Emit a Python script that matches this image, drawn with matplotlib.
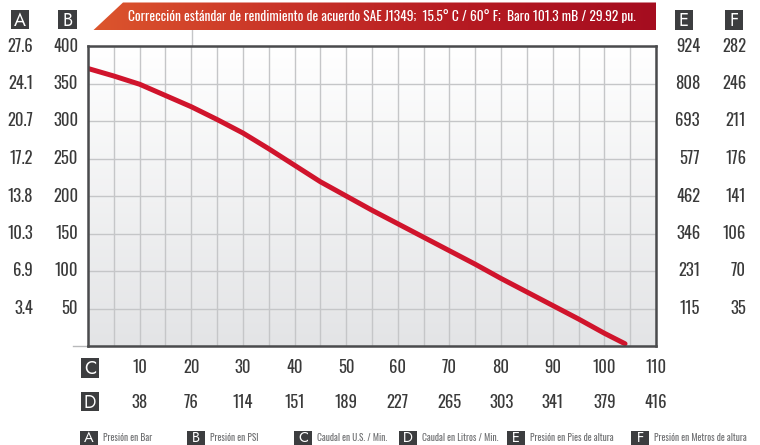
import numpy as np
import matplotlib
matplotlib.use("Agg")
import matplotlib.pyplot as plt
from matplotlib import font_manager
from matplotlib.patches import Rectangle, Polygon
from matplotlib.colors import LinearSegmentedColormap

# ---------------- data ----------------
flow_gpm = [0, 5, 10, 15, 20, 25, 30, 35, 40, 45, 50, 55, 60, 65, 70, 75, 80, 85, 90, 95, 100, 104]
pressure_psi = [370, 360, 349, 334, 319, 302, 284, 263, 241, 219, 200, 181, 163, 145, 127, 109, 90, 72, 54, 36, 17, 3]

c_ticks = [10, 20, 30, 40, 50, 60, 70, 80, 90, 100, 110]
d_labels = ["38", "76", "114", "151", "189", "227", "265", "303", "341", "379", "416"]
y_ticks = [50, 100, 150, 200, 250, 300, 350, 400]
a_labels = ["3.4", "6.9", "10.3", "13.8", "17.2", "20.7", "24.1", "27.6"]
e_labels = ["115", "231", "346", "462", "577", "693", "808", "924"]
f_labels = ["35", "70", "106", "141", "176", "211", "246", "282"]

title = "Corrección estándar de rendimiento de acuerdo SAE J1349;  15.5° C / 60° F;  Baro 101.3 mB / 29.92 pu."
legend_items = [("A", "Presión en Bar"), ("B", "Presión en PSI"), ("C", "Caudal en U.S. / Min."),
                ("D", "Caudal en Litros / Min."), ("E", "Presión en Pies de altura"),
                ("F", "Presión en Metros de altura")]

# ---------------- fonts ----------------
available = {f.name for f in font_manager.fontManager.ttflist}
cond_pref = ["Oswald", "Roboto Condensed", "Barlow Condensed", "Archivo Narrow", "PT Sans Narrow",
             "Liberation Sans Narrow", "Encode Sans Condensed", "Asap Condensed", "Saira Condensed",
             "IBM Plex Sans Condensed", "Fira Sans Condensed", "Open Sans"]
NARROW = next((n for n in cond_pref if n in available), "DejaVu Sans")
STRETCH = "condensed"
NFAM = [NARROW, "DejaVu Sans"]
box_pref = ["Jost", "Futura", "Montserrat", "Liberation Sans"]
BOXF = [next((n for n in box_pref if n in available), "DejaVu Sans"), "DejaVu Sans"]

TXT = "#3a3a3a"
BOX = "#3c3d3f"
W, H = 760, 445

fig = plt.figure(figsize=(7.6, 4.45), dpi=100)
fig.patch.set_facecolor("white")
renderer = fig.canvas.get_renderer()

ov = fig.add_axes([0, 0, 1, 1], zorder=0)
ov.set_xlim(0, W)
ov.set_ylim(H, 0)
ov.axis("off")

L, R, T, B = 88, 656, 46, 346
ax = fig.add_axes([L / W, (H - B) / H, (R - L) / W, (B - T) / H], zorder=2)

grad = np.linspace(0, 1, 256).reshape(-1, 1)
bgcmap = LinearSegmentedColormap.from_list("bg", ["#ffffff", "#e3e4e6"])
ax.imshow(grad, aspect="auto", cmap=bgcmap, extent=[0, 110, 0, 400], zorder=0, interpolation="bicubic")
ax.set_xlim(0, 110)
ax.set_ylim(0, 400)

ax.set_xticks(np.arange(0, 111, 5))
ax.set_yticks(np.arange(0, 401, 50))
ax.grid(True, color="#c5c6c8", linewidth=1.0, zorder=1)
ax.tick_params(length=0, labelbottom=False, labelleft=False)
for s in ax.spines.values():
    s.set_color("#4a4b4d")
    s.set_linewidth(1.8)
    s.set_zorder(5)

ax.plot(flow_gpm, pressure_psi, color="#d0142c", linewidth=3.6, solid_capstyle="round",
        solid_joinstyle="round", zorder=4)


def fit_size(sample, target_w, base=10):
    t = ov.text(0, 0, sample, fontsize=base, family=NFAM, fontstretch=STRETCH)
    w = t.get_window_extent(renderer).width
    t.remove()
    return base * target_w / w

tick_fs = min(fit_size("27.6", 25.5), 14)
title_fs = fit_size(title, 505)
foot_fs = fit_size("Presión en Bar", 49)

ytr = ax.get_yaxis_transform()
xtr = ax.get_xaxis_transform()
kw = dict(fontsize=tick_fs, color=TXT, family=NFAM, fontstretch=STRETCH, clip_on=False)
for v, a, e, f in zip(y_ticks, a_labels, e_labels, f_labels):
    ax.text(-0.0968, v, a, transform=ytr, ha="right", va="center", **kw)
    ax.text(-0.0176, v, str(v), transform=ytr, ha="right", va="center", **kw)
    ax.text(1.0775, v, e, transform=ytr, ha="right", va="center", **kw)
    ax.text(1.1585, v, f, transform=ytr, ha="right", va="center", **kw)
for c, d in zip(c_ticks, d_labels):
    ax.text(c, -0.073, str(c), transform=xtr, ha="center", va="center", **kw)
    ax.text(c, -0.187, d, transform=xtr, ha="center", va="center", **kw)


def letter_box(x0, y0, w, h, letter, fs=13, dy=0.5):
    ov.add_patch(Rectangle((x0, y0), w, h, facecolor=BOX, edgecolor="none", zorder=3))
    ov.text(x0 + w / 2, y0 + h / 2 + dy, letter, ha="center", va="center", color="white",
            fontsize=fs, family=BOXF, zorder=4)

letter_box(11, 10, 18, 19, "A")
letter_box(58, 10, 19, 19, "B")
letter_box(675, 10, 18, 20, "E")
letter_box(725, 10, 18, 20, "F")
letter_box(81, 358, 18, 20, "C")
letter_box(81, 392, 18, 19, "D")

fx = [80, 187, 294, 399, 507, 631]
for x0, (let, lab) in zip(fx, legend_items):
    letter_box(x0, 431, 18, 14, let, fs=10.5, dy=-0.5)
    ov.text(x0 + 23, 438, lab, ha="left", va="center", color="#707173", fontsize=foot_fs,
            family=NFAM, fontstretch=STRETCH)

ov.plot([191.7, 191.7], [30, 46], color="#c5c6c8", linewidth=1.0, zorder=1)
ov.plot([73, 88], [346, 346], color="#b8b9bb", linewidth=1.0, zorder=1)

poly = Polygon([(93, 30.5), (123, 2.5), (656, 2.5), (656, 30.5)], closed=True, facecolor="none", edgecolor="none")
ov.add_patch(poly)
hgrad = np.linspace(0, 1, 256).reshape(1, -1)
bcmap = LinearSegmentedColormap.from_list("bn", ["#dc552d", "#c93428", "#b51a22", "#a50d1f"])
im = ov.imshow(hgrad, aspect="auto", cmap=bcmap, extent=[93, 656, 30.5, 2.5], zorder=2, interpolation="bicubic")
im.set_clip_path(poly)
ov.set_xlim(0, W)
ov.set_ylim(H, 0)
ov.text(381.5, 16.5, title, ha="center", va="center", color="white", fontsize=title_fs,
        family=NFAM, fontstretch=STRETCH, zorder=4)

fig.savefig("out.png", dpi=100)
